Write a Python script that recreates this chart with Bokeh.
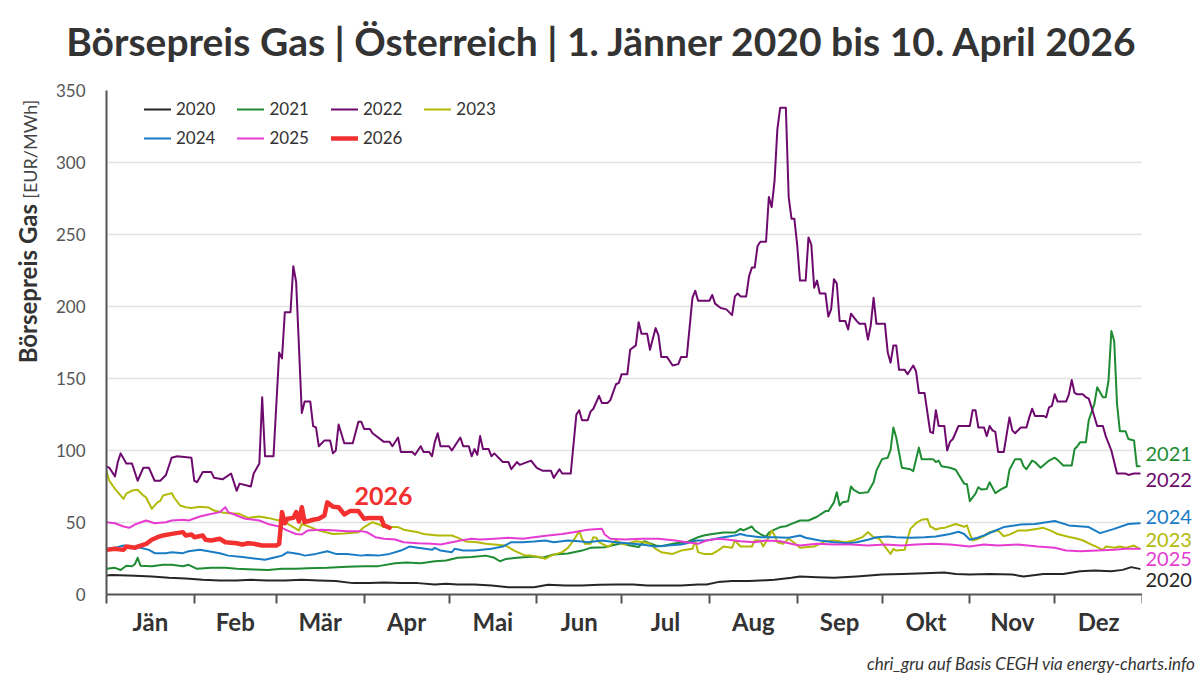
from math import pi

from bokeh.embed import file_html
from bokeh.layouts import column, row
from bokeh.models import FixedTicker, Label, Legend, LegendItem, Range1d
from bokeh.plotting import figure
from bokeh.resources import INLINE

FONT = "Lato"

# ---------------------------------------------------------------- data
month_names = ["Jän", "Feb", "Mär", "Apr", "Mai", "Jun",
               "Jul", "Aug", "Sep", "Okt", "Nov", "Dez"]
month_starts = [0, 31, 60, 91, 121, 152, 182, 213, 244, 274, 305, 335, 366]
y_ticks = [0, 50, 100, 150, 200, 250, 300, 350]

# day of year (0 = 1. Jänner) and day-ahead gas price in EUR/MWh
days_2020 = [0, 2, 10, 16, 22, 28, 34, 40, 46, 51, 57, 63, 69, 75, 81, 87, 93, 98, 104,
             110, 116, 120, 124, 130, 136, 142, 148, 151, 156, 162, 168, 174, 180, 186,
             191, 197, 203, 209, 212, 216, 221, 227, 231, 236, 242, 245, 251, 257, 265,
             274, 281, 289, 296, 300, 305, 312, 320, 324, 331, 338, 344, 349, 355, 359,
             362, 365]
price_2020 = [13.2, 13.5, 13.0, 12.5, 11.6, 11.1, 10.2, 9.7, 9.7, 10.2, 9.7, 9.7, 10.2,
              9.7, 9.3, 7.9, 7.9, 8.3, 7.9, 7.9, 6.9, 7.5, 6.9, 6.9, 6.2, 5.1, 5.1, 5.1,
              6.7, 6.2, 6.2, 6.7, 6.9, 6.9, 6.2, 6.2, 6.2, 6.9, 6.9, 8.6, 9.3, 9.3, 9.7,
              10.2, 11.6, 12.5, 12.0, 11.6, 12.5, 13.9, 14.3, 14.8, 15.3, 14.3, 13.9,
              14.3, 13.9, 12.5, 14.3, 14.3, 16.2, 16.7, 16.2, 17.1, 19.0, 17.8]

days_2021 = [0, 3, 5, 7, 9, 10, 11, 12, 16, 20, 23, 27, 29, 32, 37, 42, 46, 52, 57, 62,
             67, 71, 78, 85, 91, 96, 102, 106, 111, 116, 120, 124, 129, 134, 137, 139,
             141, 145, 151, 154, 158, 163, 168, 171, 176, 180, 182, 185, 188, 190, 194,
             196, 201, 205, 209, 211, 214, 218, 222, 224, 225, 228, 229, 231, 233, 234,
             236, 238, 240, 242, 245, 248, 251, 254, 255, 257, 258, 259, 260, 262, 263,
             264, 266, 269, 271, 272, 274, 276, 277, 278, 279, 281, 284, 285, 287, 288,
             292, 293, 294, 295, 298, 300, 303, 304, 305, 307, 308, 309, 311, 312, 314,
             316, 318, 319, 321, 323, 324, 325, 327, 328, 330, 333, 335, 336, 338, 341,
             342, 343, 344, 346, 347, 349, 350, 352, 353, 354, 355, 356, 357, 358, 360,
             361, 363, 364, 365]
price_2021 = [17.8, 18.5, 17.0, 20.0, 19.6, 21.0, 25.5, 20.0, 19.6, 20.6, 20.6, 19.6,
              20.6, 17.8, 18.5, 18.5, 17.8, 17.4, 17.0, 17.8, 17.8, 18.3, 18.5, 19.2,
              19.7, 19.7, 21.7, 22.2, 21.7, 23.1, 23.6, 25.5, 26.0, 27.0, 25.5, 23.1,
              24.6, 25.5, 26.4, 25.5, 27.8, 28.5, 30.5, 32.4, 32.8, 34.7, 35.6, 34.0,
              33.0, 37.0, 34.0, 33.5, 35.6, 36.3, 39.8, 41.0, 42.0, 43.0, 43.0, 45.6,
              44.5, 47.2, 44.5, 42.0, 40.0, 43.0, 45.0, 46.8, 47.4, 49.0, 51.4, 51.4,
              54.0, 57.9, 57.9, 64.0, 71.0, 61.8, 64.0, 64.7, 75.0, 72.7, 70.4, 71.0,
              78.0, 86.0, 94.0, 95.0, 100.5, 116.0, 109.0, 88.0, 87.0, 85.6, 102.0,
              94.0, 94.0, 92.0, 93.0, 89.0, 88.0, 86.6, 77.0, 76.5, 64.8, 70.0, 74.5,
              73.0, 73.3, 78.0, 70.4, 73.0, 75.0, 86.6, 94.0, 94.0, 89.0, 87.0, 93.0,
              92.0, 88.0, 93.0, 95.0, 93.5, 89.6, 89.6, 101.0, 103.0, 105.8, 105.8,
              121.0, 132.4, 144.0, 137.0, 137.0, 148.6, 183.0, 176.0, 132.4, 113.4,
              113.4, 108.0, 107.0, 89.0, 89.0]

days_2022 = [0, 1, 3, 4, 5, 7, 9, 11, 13, 15, 17, 19, 21, 23, 25, 30, 31, 32, 34, 37,
             38, 41, 44, 46, 47, 51, 52, 54, 55, 56, 59, 61, 62, 63, 65, 66, 67, 69, 70,
             72, 73, 74, 75, 77, 79, 80, 81, 82, 84, 87, 89, 90, 91, 93, 94, 98, 100,
             101, 103, 104, 108, 109, 111, 112, 114, 115, 116, 117, 118, 121, 122, 125,
             126, 128, 129, 130, 131, 132, 133, 135, 136, 137, 140, 142, 143, 145, 146,
             150, 152, 154, 157, 158, 160, 161, 164, 166, 167, 168, 170, 171, 172, 174,
             175, 177, 178, 180, 181, 182, 184, 185, 187, 188, 189, 191, 192, 194, 195,
             196, 198, 200, 202, 203, 205, 207, 208, 209, 213, 214, 215, 217, 219, 221,
             222, 223, 224, 226, 227, 228, 229, 230, 231, 233, 234, 235, 236, 237, 238,
             240, 241, 242, 243, 244, 245, 247, 248, 249, 250, 251, 252, 254, 255, 256,
             257, 258, 259, 261, 262, 263, 265, 266, 268, 269, 270, 271, 272, 275, 276,
             277, 278, 279, 280, 282, 283, 285, 286, 287, 289, 291, 292, 293, 294, 296,
             297, 298, 299, 301, 305, 306, 307, 308, 310, 311, 312, 313, 314, 315, 317,
             319, 320, 321, 323, 325, 326, 327, 328, 331, 332, 333, 334, 335, 336, 339,
             340, 341, 342, 343, 345, 346, 347, 348, 350, 352, 353, 355, 357, 360, 361,
             363, 365]
price_2022 = [89, 88, 82, 92, 98, 91, 91, 79, 88, 88, 79, 79, 83, 95, 96, 95, 79, 78, 85,
              85, 81, 80, 84, 72, 77, 75, 84, 91, 137, 96, 96, 168, 164, 196, 196, 228,
              217, 126, 134, 134, 117, 116, 103, 107, 107, 98, 100, 118, 105, 105, 120,
              120, 115, 115, 112, 106, 106, 103, 109, 99, 99, 97, 103, 99, 99, 96, 106,
              112, 103, 103, 100, 109, 103, 103, 96, 101, 97, 110, 101, 101, 96, 98, 92,
              92, 87, 92, 90, 93, 88, 86, 86, 81, 87, 84, 84, 125, 128, 121, 121, 127,
              129, 138, 133, 133, 135, 146, 147, 153, 153, 170, 173, 189, 181, 181, 170,
              185, 180, 165, 165, 159, 160, 165, 165, 206, 211, 204, 204, 208, 202, 199,
              198, 194, 207, 209, 207, 207, 221, 227, 227, 242, 245, 245, 276, 269, 287,
              323, 338, 338, 276, 261, 261, 243, 218, 218, 248, 243, 213, 218, 209, 209,
              193, 198, 219, 216, 190, 190, 184, 195, 190, 188, 188, 177, 187, 206, 188,
              188, 168, 161, 173, 173, 156, 156, 153, 159, 155, 140, 140, 113, 112, 128,
              117, 117, 100, 106, 108, 117, 117, 128, 128, 116, 116, 110, 117, 114, 113,
              99, 99, 123, 114, 112, 116, 116, 123, 129, 124, 124, 123, 130, 131, 139,
              134, 134, 139, 149, 140, 139, 139, 137, 136, 130, 117, 117, 110, 100, 84,
              84, 83, 84, 84]

days_2023 = [0, 1, 3, 6, 7, 9, 11, 13, 14, 16, 18, 19, 20, 23, 24, 26, 28, 30, 33, 36,
             38, 41, 43, 47, 50, 54, 57, 61, 63, 66, 68, 69, 72, 75, 80, 84, 89, 91, 94,
             96, 98, 103, 105, 110, 112, 117, 122, 124, 127, 131, 134, 137, 141, 144,
             148, 150, 153, 155, 157, 161, 163, 165, 167, 168, 169, 171, 172, 173, 174,
             177, 178, 180, 181, 183, 187, 190, 192, 194, 196, 200, 203, 207, 208, 209,
             211, 214, 216, 218, 221, 222, 224, 228, 229, 231, 232, 234, 235, 236, 237,
             239, 241, 243, 245, 250, 254, 257, 261, 264, 267, 269, 271, 273, 275, 277,
             278, 279, 282, 283, 284, 286, 288, 290, 291, 292, 293, 294, 296, 300, 303,
             304, 305, 306, 308, 310, 312, 315, 317, 319, 322, 325, 329, 331, 334, 336,
             339, 343, 345, 348, 350, 352, 353, 356, 358, 360, 363, 365]
price_2023 = [85.6, 79.0, 73.4, 66.4, 70.0, 72.2, 72.7, 68.8, 67.4, 59.5, 64.0, 65.0,
              68.8, 70.4, 67.0, 61.8, 60.6, 60.0, 61.0, 60.5, 58.3, 57.0, 56.5, 56.0,
              53.2, 54.2, 53.2, 51.4, 50.2, 46.8, 44.4, 49.0, 46.8, 44.4, 42.0, 42.3,
              43.3, 46.8, 50.2, 48.8, 46.8, 46.8, 45.0, 43.3, 42.0, 41.0, 41.0, 39.5,
              36.8, 36.3, 35.2, 34.7, 34.0, 30.5, 27.0, 27.0, 26.0, 24.8, 27.0, 29.4,
              32.4, 37.5, 44.0, 38.7, 35.2, 35.2, 39.8, 39.5, 36.3, 33.3, 34.0, 37.5,
              36.3, 34.7, 37.0, 36.3, 35.2, 31.7, 29.4, 28.2, 30.5, 31.7, 37.5, 29.4,
              28.2, 28.2, 30.5, 33.3, 32.4, 37.5, 33.3, 33.3, 37.5, 37.5, 33.3, 39.8,
              44.4, 41.0, 36.3, 35.2, 38.7, 35.9, 32.4, 33.3, 37.0, 37.5, 36.3, 37.5,
              39.8, 43.3, 39.8, 38.7, 33.3, 28.2, 31.7, 30.5, 31.0, 38.7, 45.6, 49.5,
              51.9, 52.5, 47.2, 46.3, 45.0, 45.8, 46.3, 49.0, 47.0, 48.0, 42.0, 37.5,
              38.7, 40.5, 43.3, 44.4, 40.5, 41.6, 44.4, 44.4, 45.6, 46.3, 44.0, 42.0,
              40.5, 38.7, 37.5, 34.7, 32.9, 31.0, 33.3, 32.4, 33.3, 32.4, 34.0, 31.7]

days_2024 = [0, 3, 6, 8, 12, 15, 17, 21, 23, 27, 29, 33, 36, 40, 43, 48, 53, 56, 60, 62,
             64, 68, 70, 74, 78, 81, 85, 90, 92, 96, 100, 104, 107, 110, 115, 116, 118,
             122, 123, 126, 130, 136, 140, 143, 147, 151, 155, 158, 163, 167, 170, 175,
             180, 184, 189, 194, 198, 203, 205, 208, 212, 217, 222, 224, 226, 231, 236,
             241, 245, 247, 252, 257, 262, 265, 269, 272, 276, 279, 284, 289, 293, 298,
             301, 303, 305, 307, 310, 313, 317, 323, 328, 335, 340, 347, 351, 356, 361,
             365]
price_2024 = [31.7, 32.4, 34.0, 33.3, 32.4, 31.0, 28.7, 28.7, 29.4, 28.7, 30.0, 31.0,
              30.0, 28.7, 27.0, 26.0, 24.8, 24.1, 26.0, 27.0, 29.4, 28.2, 27.0, 28.2,
              30.0, 28.2, 28.2, 27.0, 27.5, 27.0, 28.2, 30.5, 33.3, 32.4, 31.0, 32.4,
              30.5, 29.4, 31.7, 30.5, 30.5, 31.7, 33.3, 36.3, 36.3, 36.8, 37.5, 36.3,
              37.5, 37.0, 36.3, 37.5, 36.3, 35.6, 34.7, 33.3, 34.0, 34.7, 35.6, 37.5,
              37.5, 39.4, 41.0, 42.0, 41.0, 39.8, 39.8, 39.4, 41.0, 39.4, 37.5, 36.3,
              35.6, 36.3, 38.0, 39.8, 40.3, 39.8, 39.4, 39.8, 40.3, 42.0, 43.6, 42.0,
              38.0, 39.0, 41.0, 43.6, 46.8, 48.6, 49.0, 51.0, 48.0, 46.8, 42.6, 45.6,
              49.0, 49.5]

days_2025 = [0, 3, 6, 8, 10, 14, 17, 21, 23, 27, 29, 33, 36, 40, 42, 43, 46, 49, 54, 57,
             61, 64, 67, 69, 71, 76, 81, 85, 90, 92, 95, 98, 102, 105, 110, 115, 118,
             122, 125, 129, 132, 137, 142, 147, 151, 156, 161, 165, 170, 175, 176, 178,
             183, 189, 195, 201, 205, 209, 212, 216, 219, 224, 229, 233, 238, 243, 245,
             251, 257, 263, 269, 275, 281, 286, 292, 298, 305, 310, 315, 322, 329, 335,
             339, 344, 350, 356, 360, 365]
price_2025 = [50.2, 49.5, 47.2, 46.3, 48.6, 51.4, 49.5, 50.2, 51.4, 51.9, 51.4, 54.2,
              55.6, 57.2, 60.6, 57.2, 54.9, 52.6, 51.4, 49.0, 47.2, 44.4, 42.0, 41.7,
              44.4, 44.9, 44.4, 44.0, 44.0, 43.3, 39.8, 38.7, 38.2, 36.3, 35.6, 35.2,
              34.7, 36.3, 37.5, 38.7, 38.2, 38.7, 39.4, 38.7, 39.8, 41.0, 42.0, 43.3,
              44.9, 45.6, 41.7, 38.7, 38.2, 38.7, 38.7, 37.5, 36.3, 35.2, 37.5, 38.7,
              38.2, 37.0, 36.3, 37.5, 37.0, 34.7, 34.0, 35.2, 34.7, 34.7, 34.0, 34.7,
              34.0, 34.7, 35.2, 34.7, 33.3, 34.7, 34.0, 34.7, 33.3, 32.4, 30.5, 30.0,
              30.5, 31.0, 31.7, 31.7]

days_2026 = [0, 3, 6, 7, 10, 11, 14, 16, 18, 20, 23, 27, 28, 30, 31, 34, 35, 37, 40, 42,
             46, 48, 50, 52, 55, 60, 61, 62, 63, 64, 66, 67, 68, 69, 70, 73, 75, 77, 78,
             80, 82, 84, 86, 89, 91, 93, 97, 98, 99, 100]
price_2026 = [31.0, 31.7, 31.0, 33.3, 32.4, 33.3, 35.2, 38.0, 39.8, 41.0, 42.1, 43.3,
              41.0, 41.7, 39.8, 41.0, 38.0, 37.5, 38.7, 36.3, 35.6, 34.7, 35.6, 35.2,
              34.0, 34.0, 35.2, 57.2, 49.5, 52.6, 53.2, 57.2, 50.7, 60.6, 50.2, 51.9,
              52.6, 54.9, 64.0, 61.0, 60.6, 55.6, 57.9, 57.9, 52.6, 53.2, 53.2, 48.0,
              47.2, 46.3]

series = [
    ("2020", days_2020, price_2020, "#262626", 2.0),
    ("2021", days_2021, price_2021, "#1e8c32", 2.0),
    ("2022", days_2022, price_2022, "#6e0a6e", 2.0),
    ("2023", days_2023, price_2023, "#b2ba08", 2.0),
    ("2024", days_2024, price_2024, "#1a7cc4", 2.0),
    ("2025", days_2025, price_2025, "#e63cd2", 2.0),
    ("2026", days_2026, price_2026, "#f2302f", 4.5),
]

# ---------------------------------------------------------------- layout sizes
W = 1200
TOP_H, BOTTOM_H = 80, 30          # title strip, source note strip
LEFT_W, RIGHT_W = 52, 58          # axis title strip, end label strip
BORDER_L, BORDER_T, BORDER_B = 52, 10, 50
FRAME_W, FRAME_H = 1038, 504
MAIN_W = BORDER_L + FRAME_W
MAIN_H = BORDER_T + FRAME_H + BORDER_B


def text_strip(width, height):
    """Plain drawing strip whose data units are pixels from its top-left corner."""
    f = figure(width=width, height=height, output_backend="svg", toolbar_location=None,
               x_axis_type=None, y_axis_type=None, x_range=Range1d(0, width),
               y_range=Range1d(height, 0), min_border=0)
    f.outline_line_color = None
    f.background_fill_color = "white"
    f.border_fill_color = "white"
    return f


# ---------------------------------------------------------------- main chart
y_range = Range1d(0, 350)
p = figure(width=MAIN_W, height=MAIN_H, output_backend="svg", toolbar_location=None,
           x_range=Range1d(0, 366), y_range=y_range,
           min_border_left=BORDER_L, min_border_top=BORDER_T,
           min_border_right=0, min_border_bottom=BORDER_B)
p.outline_line_color = None
p.background_fill_color = "white"
p.border_fill_color = "white"
p.xgrid.visible = False
p.ygrid.ticker = FixedTicker(ticks=[50, 100, 150, 200, 250, 300])
p.ygrid.grid_line_color = "#e2e2e2"
p.ygrid.grid_line_width = 1.5

# x axis: month names between the month boundary ticks
mids = [(a + b) / 2 for a, b in zip(month_starts[:-1], month_starts[1:])]
xa = p.xaxis[0]
xa.ticker = FixedTicker(ticks=mids, minor_ticks=month_starts)
xa.major_label_overrides = {m: n for m, n in zip(mids, month_names)}
xa.major_tick_line_color = None
xa.minor_tick_line_color = "#555555"
xa.minor_tick_line_width = 2
xa.minor_tick_in = 0
xa.minor_tick_out = 9
xa.axis_line_color = "#555555"
xa.axis_line_width = 2
xa.major_label_standoff = 3
xa.major_label_text_font = FONT
xa.major_label_text_font_style = "bold"
xa.major_label_text_font_size = "24px"
xa.major_label_text_color = "#333333"

ya = p.yaxis[0]
ya.ticker = FixedTicker(ticks=y_ticks)
ya.major_tick_line_color = None
ya.minor_tick_line_color = None
ya.axis_line_color = "#555555"
ya.axis_line_width = 2
ya.major_label_standoff = 15
ya.major_label_text_font = FONT
ya.major_label_text_font_size = "17px"
ya.major_label_text_color = "#555555"

renderers = {}
for name, d, v, col, lw in series:
    renderers[name] = p.line(d, v, line_color=col, line_width=lw,
                             line_join="round", line_cap="round")


# legend in two rows; location is the bottom-left corner in frame pixels
def make_legend(names, row_center):
    return Legend(
        items=[LegendItem(label=n, renderers=[renderers[n]]) for n in names],
        orientation="horizontal", location=(38, FRAME_H - row_center - 10),
        glyph_width=27, glyph_height=20, label_height=20, label_standoff=5,
        spacing=22, padding=0, margin=0,
        label_text_font=FONT, label_text_font_size="17px", label_text_color="#333333",
        border_line_color=None, background_fill_alpha=0)


p.add_layout(make_legend(["2020", "2021", "2022", "2023"], 19))
p.add_layout(make_legend(["2024", "2025", "2026"], 48))

# highlighted current year
p.add_layout(Label(x=days_2026[-1], y=price_2026[-1], text="2026", x_offset=-6, y_offset=32,
                   text_align="center", text_baseline="middle", text_color="#f2302f",
                   text_font=FONT, text_font_style="bold", text_font_size="25px"))

# ---------------------------------------------------------------- end labels
right = figure(width=RIGHT_W, height=MAIN_H, output_backend="svg", toolbar_location=None,
               x_axis_type=None, y_axis_type=None, x_range=Range1d(0, RIGHT_W),
               y_range=y_range, min_border_left=0, min_border_right=0,
               min_border_top=BORDER_T, min_border_bottom=BORDER_B)
right.outline_line_color = None
right.background_fill_color = "white"
right.border_fill_color = "white"
# pixel nudges keep the year labels apart where the lines end close together
end_nudge = {"2021": 12, "2022": -6, "2024": 6, "2023": 9, "2025": -10, "2020": -11}
for name, d, v, col, lw in series:
    if name == "2026":
        continue
    right.add_layout(Label(x=3, y=v[-1], text=name, y_offset=end_nudge[name],
                           text_align="left", text_baseline="middle", text_color=col,
                           text_font=FONT, text_font_size="20px"))

# ---------------------------------------------------------------- axis title
# strip spans canvas rows 80..644; the two parts meet around canvas row 204
left = text_strip(LEFT_W, MAIN_H)
left.add_layout(Label(x=27, y=127, angle=pi / 2, text="Börsepreis Gas",
                      text_align="right", text_baseline="middle", text_color="#333333",
                      text_font=FONT, text_font_style="bold", text_font_size="24px"))
left.add_layout(Label(x=29, y=121, angle=pi / 2, text="[EUR/MWh]",
                      text_align="left", text_baseline="middle", text_color="#444444",
                      text_font=FONT, text_font_size="18px"))

# ---------------------------------------------------------------- title and source
top = text_strip(W, TOP_H)
top.add_layout(Label(x=602, y=40,
                     text="Börsepreis Gas | Österreich | 1. Jänner 2020 bis 10. April 2026",
                     text_align="center", text_baseline="middle", text_color="#333333",
                     text_font=FONT, text_font_style="bold", text_font_size="39px"))

bottom = text_strip(W, BOTTOM_H)
bottom.add_layout(Label(x=1195, y=19, text="chri_gru auf Basis CEGH via energy-charts.info",
                        text_align="right", text_baseline="middle", text_color="#333333",
                        text_font=FONT, text_font_style="italic", text_font_size="17px"))

page = column(top, row(left, p, right, spacing=0), bottom, spacing=0)
open("out.html", "w").write(file_html(page, INLINE))
